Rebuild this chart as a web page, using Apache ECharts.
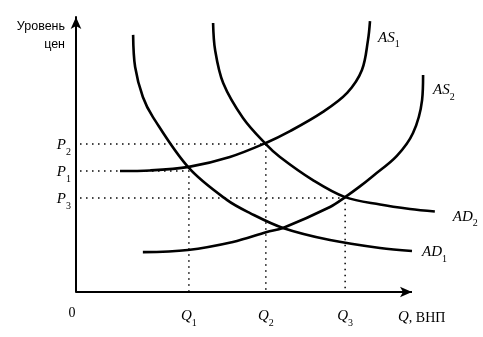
<!DOCTYPE html>
<html>
<head>
<meta charset="utf-8">
<script src="https://cdn.jsdelivr.net/npm/echarts@6/dist/echarts.min.js"></script>
<style>html,body{margin:0;padding:0;background:#fff}#c{width:483px;height:337px}</style>
</head>
<body>
<div id="c"></div>
<script>
// Equilibrium quantities and price levels
const qValues = [33.6, 56.5, 80.1];
const qLabels = ['1', '2', '3'];
const pValues = [44.0, 53.8, 34.2];
const pLabels = ['1', '2', '3'];
const guideStart = 1.2;
const axisEndX = 100;

// Curves [x, y]
const ad1 = [[17.0,93.5],[17.6,81.8],[19.9,70.9],[22.9,63.6],[33.6,45.1],[44.9,33.5],[51.8,28.7],[61.6,23.3],[75.6,18.9],[90.5,16.0],[100.0,14.9]];
const ad2 = [[40.8,97.8],[41.4,88.0],[43.8,76.0],[49.7,63.3],[56.5,53.8],[60.7,49.1],[70.5,40.7],[80.1,34.5],[90.5,31.8],[99.4,30.2],[106.8,29.3]];
const as1 = [[13.1,44.0],[22.0,44.2],[33.6,45.5],[45.8,49.1],[56.5,54.2],[63.7,58.5],[73.5,65.5],[80.7,72.4],[85.1,80.7],[86.9,91.6],[87.5,98.5]];
const as2 = [[19.9,14.5],[33.3,15.3],[46.7,18.2],[56.8,21.8],[61.6,23.3],[75.6,30.9],[80.1,34.5],[84.5,38.4],[88.4,42.2],[95.5,49.5],[100.3,57.8],[103.0,69.8],[103.3,78.9]];

const curveNames = ['AS', 'AS', 'AD', 'AD'];
const curveSubs = ['1', '2', '2', '1'];

const serif = 'Liberation Serif';
const richLbl = {
  i: {fontFamily: serif, fontStyle: 'italic', fontSize: 15, color: '#000', lineHeight: 18, verticalAlign: 'bottom'},
  s: {fontFamily: serif, fontSize: 10, color: '#000', lineHeight: 12, verticalAlign: 'bottom', padding: [0,0,-4,0]},
  r: {fontFamily: serif, fontSize: 14, color: '#000', lineHeight: 18, verticalAlign: 'bottom'},
  z: {fontFamily: serif, fontSize: 14, color: '#000', padding: [0,8,0,0]}
};

function near(a, b) { return Math.abs(a - b) < 0.01; }

const chart = echarts.init(document.getElementById('c'), null, {renderer: 'canvas'});

const guideSeries = qValues.map((q, i) => ({
  type: 'line',
  data: [[guideStart, pValues[i]], [q, pValues[i]], [q, 0]],
  symbol: 'none',
  lineStyle: {color: '#000', width: 1.5, type: [1.5, 4.5]},
  silent: true,
  z: 1
}));

// x axis line with arrow, drawn as a mark line
guideSeries[0].markLine = {
  silent: true,
  symbol: ['none', 'arrow'],
  symbolSize: [8, 12],
  label: {show: false},
  lineStyle: {color: '#000', width: 2, type: 'solid'},
  data: [[{coord: [0, 0]}, {coord: [axisEndX, 0]}]]
};

const curves = [as1, as2, ad2, ad1];
const endOffsets = [[0, 15], [2, 14], [10, 4], [2, 0]];
const curveSeries = curves.map((d, i) => ({
  type: 'line',
  data: d,
  smooth: 0.35,
  symbol: 'none',
  clip: false,
  lineStyle: {color: '#000', width: 2.6},
  endLabel: {
    show: true,
    offset: endOffsets[i],
    formatter: () => '{i|' + curveNames[i] + '}{s|' + curveSubs[i] + '}',
    rich: richLbl
  },
  z: 3
}));

chart.setOption({
  animation: false,
  grid: {left: 76, top: 17, width: 369.6, height: 275, containLabel: false, outerBoundsMode: 'none'},
  xAxis: {
    type: 'value', min: 0, max: 110,
    splitLine: {show: false},
    axisTick: {show: false},
    axisLine: {show: false},
    axisLabel: {
      show: true, margin: 14,
      customValues: [0].concat(qValues),
      formatter: (v) => {
        if (near(v, 0)) return '{z|0}';
        const i = qValues.findIndex(q => near(q, v));
        return i >= 0 ? '{i|Q}{s|' + qLabels[i] + '}' : '';
      },
      rich: richLbl
    },
    name: '{i|Q}{r|, ВНП}',
    nameLocation: 'end',
    nameGap: -47.6,
    nameTextStyle: {align: 'left', verticalAlign: 'top', padding: [15, 0, 0, 0], rich: richLbl}
  },
  yAxis: {
    type: 'value', min: 0, max: 100,
    splitLine: {show: false},
    axisTick: {show: false},
    axisLine: {show: true, onZero: false, lineStyle: {color: '#000', width: 2}, symbol: ['none', 'arrow'], symbolSize: [8, 12]},
    axisLabel: {
      show: true, margin: 5,
      customValues: pValues.slice().sort((a, b) => a - b),
      formatter: (v) => {
        const i = pValues.findIndex(p => near(p, v));
        return i >= 0 ? '{i|P}{s|' + pLabels[i] + '}' : '';
      },
      rich: richLbl
    },
    name: 'Уровень\nцен',
    nameLocation: 'end',
    nameGap: -19,
    nameTextStyle: {align: 'right', verticalAlign: 'middle', padding: [0, 11, 0, 0], fontFamily: 'Liberation Sans', fontSize: 12.5, lineHeight: 18, color: '#000'}
  },
  series: guideSeries.concat(curveSeries)
});
</script>
</body>
</html>
